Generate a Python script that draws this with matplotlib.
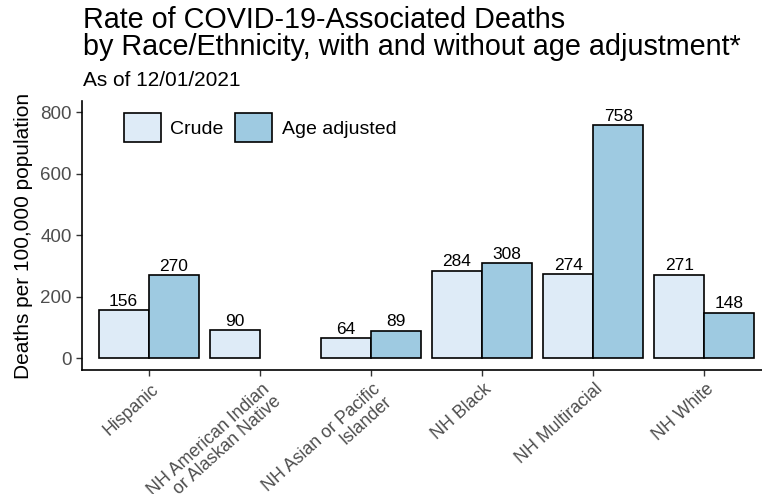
import matplotlib
matplotlib.use("Agg")
import matplotlib.pyplot as plt
import matplotlib.transforms as mtransforms
import numpy as np
from matplotlib.patches import Patch

plt.rcParams['font.family'] = ['Liberation Sans', 'DejaVu Sans']

categories = ["Hispanic", "NH American Indian\nor Alaskan Native", "NH Asian or Pacific\nIslander",
              "NH Black", "NH Multiracial", "NH White"]
crude = [156, 90, 64, 284, 274, 271]
age_adjusted = [270, None, 89, 308, 758, 148]
series_names = ["Crude", "Age adjusted"]
colors = ["#DEEBF7", "#9ECAE1"]
yticks = [0, 200, 400, 600, 800]

fig = plt.figure(figsize=(7.62, 4.94), dpi=100)
W, H = 762, 494
left, right, top, bottom = 82, 771, 101, 370
ax = fig.add_axes([left / W, 1 - bottom / H, (right - left) / W, (bottom - top) / H])

x = np.arange(1, len(categories) + 1)
w = 0.45
lab_fs = 12.5
for i in range(len(categories)):
    c = crude[i]
    a = age_adjusted[i]
    ax.bar(x[i] - w / 2, c, width=w, color=colors[0], edgecolor="black", linewidth=1.2)
    ax.text(x[i] - w / 2, c + 4, str(c), ha="center", va="bottom", fontsize=lab_fs)
    if a is not None:
        ax.bar(x[i] + w / 2, a, width=w, color=colors[1], edgecolor="black", linewidth=1.2)
        ax.text(x[i] + w / 2, a + 4, str(a), ha="center", va="bottom", fontsize=lab_fs)

ax.set_xlim(0.4, 6.6)
ax.set_ylim(-39, 836)
ax.set_yticks(yticks)
ax.set_yticklabels([str(t) for t in yticks])
ax.set_xticks(x)
ax.tick_params(axis="y", labelsize=13.5, labelcolor="#4D4D4D", length=4, width=1, color="#333333")
ax.tick_params(axis="x", length=4, width=1, color="#333333", pad=4)
ax.set_xticklabels(categories, rotation=42, ha="right", rotation_mode="anchor",
                   multialignment="right", fontsize=12.8, color="#4D4D4D", linespacing=1.0)
offset = mtransforms.ScaledTranslation(1.5 / 100, 0.5 / 100, fig.dpi_scale_trans)
for lbl in ax.get_xticklabels():
    lbl.set_transform(lbl.get_transform() + offset)
for s in ["top", "right"]:
    ax.spines[s].set_visible(False)
for s in ["left", "bottom"]:
    ax.spines[s].set_linewidth(1.2)
ax.set_ylabel("Deaths per 100,000 population", fontsize=15, labelpad=5)

handles = [Patch(facecolor=colors[0], edgecolor="black", linewidth=1.2),
           Patch(facecolor=colors[1], edgecolor="black", linewidth=1.2)]
ax.legend(handles, series_names, ncol=2, loc="upper left", bbox_to_anchor=(0.035, 1.02),
          frameon=False, fontsize=14, handlelength=1.9, handleheight=1.9,
          columnspacing=0.6, handletextpad=0.5)

fig.text(83 / W, 1 - 28 / H, "Rate of COVID-19-Associated Deaths", fontsize=20.7)
fig.text(83 / W, 1 - 55 / H, "by Race/Ethnicity, with and without age adjustment*", fontsize=20.7)
fig.text(83 / W, 1 - 86 / H, "As of 12/01/2021", fontsize=15)

fig.savefig("out.png", dpi=100)
